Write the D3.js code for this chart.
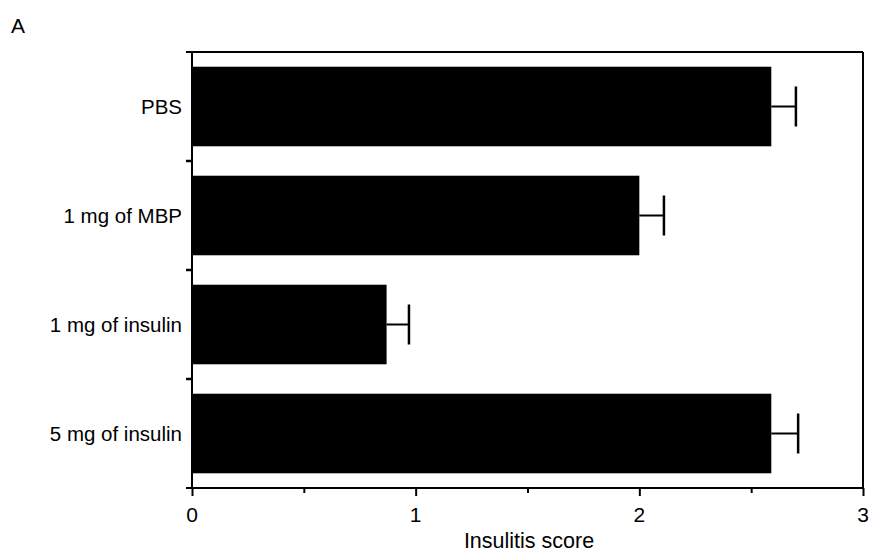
<!DOCTYPE html>
<html><head><meta charset="utf-8">
<script src="https://cdn.jsdelivr.net/npm/d3@7"></script>
<style>body{margin:0;background:#fff}svg{display:block}text{font-family:"Liberation Sans",Arial,sans-serif;fill:#000}</style>
</head><body><svg id="c" width="871" height="552"></svg>
<script>
const categories = ["PBS", "1 mg of MBP", "1 mg of insulin", "5 mg of insulin"];
const means = [2.59, 2.0, 0.87, 2.59];
const errors = [0.11, 0.11, 0.10, 0.12];
const xTicks = [0, 1, 2, 3];
const xMinorTicks = [0.5, 1.5, 2.5];
const xLabel = "Insulitis score";
const panelLabel = "A";

const svg = d3.select("#c");
const L = 192, R = 863, T = 52, B = 488;
const x = d3.scaleLinear().domain([0, 3]).range([L, R]);
const y = d3.scaleBand().domain(categories).range([T, B]).paddingInner(0.27).paddingOuter(0.135);
const yb = d3.scaleBand().domain(categories).range([T, B]);

// bars
svg.selectAll("rect.bar").data(categories).join("rect")
  .attr("x", x(0)).attr("y", d => y(d))
  .attr("width", (d, i) => x(means[i]) - x(0)).attr("height", y.bandwidth())
  .attr("fill", "#000");

// error bars
const eb = svg.append("g").attr("stroke", "#000").attr("stroke-width", 2);
categories.forEach((c, i) => {
  const cy = y(c) + y.bandwidth() / 2;
  eb.append("line").attr("x1", x(means[i])).attr("x2", x(means[i] + errors[i])).attr("y1", cy).attr("y2", cy);
  eb.append("line").attr("x1", x(means[i] + errors[i])).attr("x2", x(means[i] + errors[i])).attr("y1", cy - 20).attr("y2", cy + 20).attr("stroke-width", 2.5);
});

// frame
const fr = svg.append("g").attr("stroke", "#000").attr("stroke-width", 2).attr("fill", "none");
fr.append("line").attr("x1", L - 6).attr("x2", R).attr("y1", T).attr("y2", T);
fr.append("line").attr("x1", R).attr("x2", R).attr("y1", T).attr("y2", B);
fr.append("line").attr("x1", L).attr("x2", L).attr("y1", T).attr("y2", B);
fr.append("line").attr("x1", L - 6).attr("x2", R).attr("y1", B).attr("y2", B);

// y separator ticks
categories.slice(1).forEach(c => {
  fr.append("line").attr("x1", L - 6).attr("x2", L).attr("y1", yb(c)).attr("y2", yb(c)).attr("stroke-width", 2.5);
});

// x axis
const xa = svg.append("g").attr("transform", `translate(0,${B})`)
  .call(d3.axisBottom(x).tickValues(xTicks).tickSize(8).tickFormat(""));
xa.select(".domain").remove();
xa.selectAll(".tick line").attr("stroke", "#000").attr("stroke-width", 2);
const xm = svg.append("g").attr("transform", `translate(0,${B})`)
  .call(d3.axisBottom(x).tickValues(xMinorTicks).tickSize(5).tickFormat(""));
xm.select(".domain").remove();
xm.selectAll(".tick line").attr("stroke", "#000").attr("stroke-width", 2);

svg.selectAll("text.xt").data(xTicks).join("text")
  .attr("class", "xt").attr("x", d => x(d)).attr("y", 522)
  .attr("text-anchor", "middle").style("font-size", "21px").text(d => d);

// category labels
svg.selectAll("text.cat").data(categories).join("text")
  .attr("class", "cat").attr("x", 182).attr("y", d => y(d) + y.bandwidth() / 2)
  .attr("text-anchor", "end").attr("dominant-baseline", "central")
  .style("font-size", "20.5px").text(d => d);

svg.append("text").attr("x", 529).attr("y", 548).attr("text-anchor", "middle")
  .style("font-size", "21.5px").text(xLabel);
svg.append("text").attr("x", 11).attr("y", 33).style("font-size", "21px").text(panelLabel);
</script></body></html>
